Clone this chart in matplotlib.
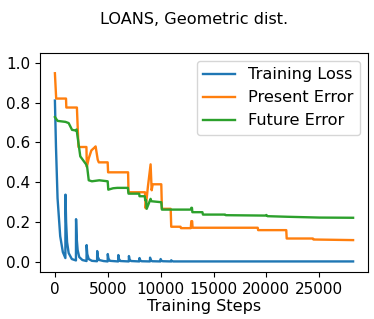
import matplotlib
matplotlib.use("Agg")
import matplotlib.pyplot as plt

# training loss: spikes roughly every 1000 steps, decaying quickly
loss_steps = [0, 100, 250, 500, 750, 990,
              1000, 1060, 1150, 1300, 1600, 1990,
              2000, 2060, 2150, 2300, 2600, 2990,
              3000, 3060, 3200, 3500, 3990,
              4000, 4060, 4200, 4600, 4990,
              5000, 5060, 5200, 5990,
              6000, 6060, 6200, 6990,
              7000, 7060, 7200, 7990,
              8000, 8060, 8200, 8990,
              9000, 9060, 9200, 9990,
              10000, 10060, 10200, 10990,
              11000, 11060, 11200, 28200]
loss_vals = [0.81, 0.58, 0.32, 0.13, 0.05, 0.02,
             0.338, 0.2, 0.1, 0.045, 0.015, 0.008,
             0.215, 0.12, 0.06, 0.025, 0.01, 0.005,
             0.085, 0.04, 0.015, 0.006, 0.004,
             0.055, 0.025, 0.01, 0.005, 0.003,
             0.04, 0.018, 0.006, 0.003,
             0.035, 0.015, 0.005, 0.003,
             0.03, 0.012, 0.005, 0.003,
             0.02, 0.009, 0.004, 0.003,
             0.022, 0.009, 0.004, 0.003,
             0.015, 0.007, 0.004, 0.003,
             0.009, 0.005, 0.003, 0.003]

present_steps = [0, 120, 1050, 1080, 2080, 2230, 2980, 3020, 3200, 3450, 3800,
                 3850, 4050, 4150, 4990, 5030, 6920, 6960, 8520, 8580, 8800,
                 9050, 9150, 9250, 10060, 10120, 10950, 11000, 11880, 11920,
                 12850, 12900, 12980, 13020, 19180, 19220, 21880, 21920,
                 24400, 24450, 28200]
present_vals = [0.947, 0.82, 0.82, 0.775, 0.775, 0.577, 0.577, 0.477, 0.52, 0.56, 0.577,
                0.58, 0.513, 0.5, 0.5, 0.45, 0.45, 0.35, 0.35, 0.27, 0.38,
                0.49, 0.36, 0.39, 0.39, 0.267, 0.267, 0.177, 0.177, 0.17,
                0.17, 0.205, 0.205, 0.172, 0.172, 0.16, 0.16, 0.118,
                0.118, 0.113, 0.11]

future_steps = [0, 250, 1000, 1300, 1620, 1950, 2050, 2400, 2950, 3050, 3200,
                3500, 4200, 4990, 5050, 5500, 5900, 6900, 6960, 7970, 8000,
                8500, 8540, 8620, 8680, 9050, 9120, 10060, 10120, 12850,
                12900, 12960, 13000, 13950, 14000, 16100, 16150, 19900, 20000,
                20100, 22000, 25000, 28200]
future_vals = [0.727, 0.708, 0.703, 0.697, 0.663, 0.66, 0.665, 0.53, 0.49, 0.477, 0.41,
               0.405, 0.41, 0.405, 0.363, 0.37, 0.372, 0.372, 0.343, 0.343, 0.33,
               0.33, 0.31, 0.31, 0.267, 0.317, 0.305, 0.30, 0.263, 0.263,
               0.272, 0.272, 0.25, 0.25, 0.238, 0.238, 0.235, 0.233, 0.236,
               0.23, 0.227, 0.223, 0.222]

fs = 11.6
tick_fs = 11
lw = 1.7
fig = plt.figure(figsize=(3.74, 3.19), dpi=100)
ax = fig.add_axes([40 / 374, 1 - 272 / 319, 328 / 374, (272 - 52.7) / 319])

ax.plot(loss_steps, loss_vals, lw=lw, label="Training Loss")
ax.plot(present_steps, present_vals, lw=lw, label="Present Error")
ax.plot(future_steps, future_vals, lw=lw, label="Future Error")

ax.set_ylim(-0.05, 1.05)
ax.set_xticks([0, 5000, 10000, 15000, 20000, 25000])
ax.set_yticks([0.0, 0.2, 0.4, 0.6, 0.8, 1.0])
ax.tick_params(labelsize=tick_fs)
ax.set_xlabel("Training Steps", fontsize=fs, labelpad=2)
ax.legend(loc="upper right", fontsize=fs)

fig.text(194 / 374, 1 - 20 / 319, "LOANS, Geometric dist.", fontsize=fs,
         ha="center", va="center")

fig.savefig("out.png", dpi=100)
